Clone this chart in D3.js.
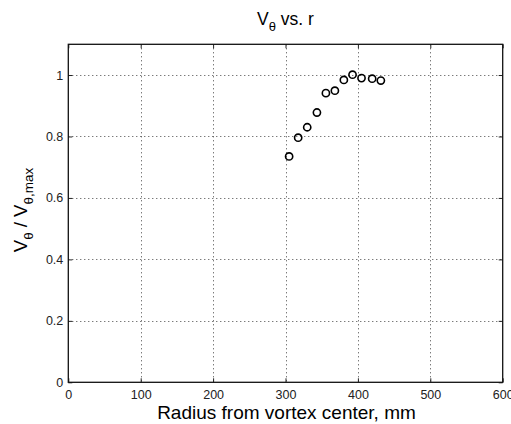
<!DOCTYPE html>
<html>
<head>
<meta charset="utf-8">
<script src="https://cdn.jsdelivr.net/npm/d3@7"></script>
<style>
  body { margin: 0; background: #fff; }
  text { font-family: "Liberation Sans", Arial, sans-serif; }
</style>
</head>
<body>
<div id="chart"></div>
<script>
// data
const radius = [305, 317.5, 330, 343.4, 355.8, 368.2, 380.6, 392.6, 405, 419.7, 431.7];
const vRatio = [0.735, 0.796, 0.830, 0.878, 0.941, 0.949, 0.984, 1.001, 0.990, 0.988, 0.982];
const xTickValues = [0, 100, 200, 300, 400, 500, 600];
const yTickValues = [0, 0.2, 0.4, 0.6, 0.8, 1];

const width = 511, height = 424;
const mLeft = 68.3, mRight = 502.7, mTop = 44.3, mBottom = 382.3;

const svg = d3.select('#chart')
  .append('svg')
  .attr('width', width)
  .attr('height', height);

const x = d3.scaleLinear().domain([0, 600]).range([mLeft, mRight]);
const y = d3.scaleLinear().domain([0, 1.1]).range([mBottom, mTop]);

// grid
const grid = svg.append('g')
  .attr('stroke', '#444')
  .attr('stroke-width', 1)
  .attr('stroke-dasharray', '1,3');
grid.selectAll('line.vx')
  .data(xTickValues.slice(1, -1))
  .enter().append('line')
    .attr('x1', d => Math.round(x(d)) + 0.5)
    .attr('x2', d => Math.round(x(d)) + 0.5)
    .attr('y1', mTop)
    .attr('y2', mBottom);
grid.selectAll('line.hy')
  .data(yTickValues.slice(1))
  .enter().append('line')
    .attr('y1', d => Math.round(y(d)) + 0.5)
    .attr('y2', d => Math.round(y(d)) + 0.5)
    .attr('x1', mLeft)
    .attr('x2', mRight);

// axes, ticks pointing inward like matlab
const xAxis = d3.axisBottom(x).tickValues(xTickValues).tickSizeInner(-4).tickSizeOuter(0).tickPadding(8);
const yAxis = d3.axisLeft(y).tickValues(yTickValues).tickSizeInner(-4).tickSizeOuter(0).tickPadding(5)
  .tickFormat(d3.format('~g'));

const gx = svg.append('g')
  .attr('transform', `translate(0,${mBottom})`)
  .call(xAxis);
const gy = svg.append('g')
  .attr('transform', `translate(${mLeft},0)`)
  .call(yAxis);
svg.append('g')
  .attr('transform', `translate(0,${mTop})`)
  .call(d3.axisTop(x).tickValues(xTickValues).tickSizeInner(-4).tickSizeOuter(0).tickFormat(''));
svg.append('g')
  .attr('transform', `translate(${mRight},0)`)
  .call(d3.axisRight(y).tickValues(yTickValues).tickSizeInner(-4).tickSizeOuter(0).tickFormat(''));

svg.selectAll('.domain').remove();
svg.selectAll('.tick line').attr('stroke', '#222');
[gx, gy].forEach(g => g.selectAll('text')
  .attr('font-size', 12.5)
  .attr('fill', '#222')
  .style('font-family', '"Liberation Sans", Arial, sans-serif'));

// box
svg.append('rect')
  .attr('x', mLeft)
  .attr('y', mTop)
  .attr('width', mRight - mLeft)
  .attr('height', mBottom - mTop)
  .attr('fill', 'none')
  .attr('stroke', '#111')
  .attr('stroke-width', 1.3);

// markers
svg.append('g')
  .selectAll('circle')
  .data(radius)
  .enter().append('circle')
    .attr('cx', d => x(d))
    .attr('cy', (d, i) => y(vRatio[i]))
    .attr('r', 3.6)
    .attr('fill', 'none')
    .attr('stroke', '#000')
    .attr('stroke-width', 1.6);

// title
const title = svg.append('text')
  .attr('x', (mLeft + mRight) / 2)
  .attr('y', 25)
  .attr('text-anchor', 'middle')
  .attr('font-size', 17.5)
  .attr('fill', '#000');
title.append('tspan').text('V');
title.append('tspan').attr('dy', 6).attr('font-size', 13).text('θ');
title.append('tspan').attr('dy', -6).text(' vs. r');

// x label
svg.append('text')
  .attr('x', (mLeft + mRight) / 2 + 1)
  .attr('y', 419)
  .attr('text-anchor', 'middle')
  .attr('font-size', 19)
  .attr('fill', '#000')
  .text('Radius from vortex center, mm');

// y label
const yl = svg.append('text')
  .attr('transform', `translate(27,210) rotate(-90)`)
  .attr('text-anchor', 'middle')
  .attr('font-size', 18.5)
  .attr('fill', '#000');
yl.append('tspan').text('V');
yl.append('tspan').attr('dy', 6).attr('font-size', 13.5).text('θ');
yl.append('tspan').attr('dy', -6).text(' / V');
yl.append('tspan').attr('dy', 6).attr('font-size', 13.5).text('θ,max');
</script>
</body>
</html>
